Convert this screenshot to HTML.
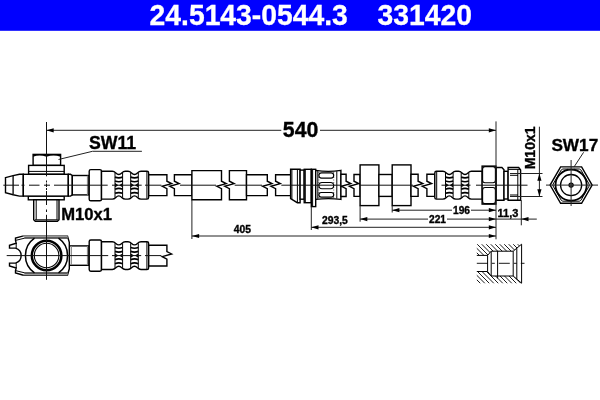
<!DOCTYPE html>
<html><head><meta charset="utf-8"><style>
html,body{margin:0;padding:0;background:#fff;}
svg{display:block;will-change:transform;}
.o{fill:#fff;stroke:#000;stroke-width:1.4;stroke-linejoin:miter;}
.t{fill:none;stroke:#000;stroke-width:1;}
.k{fill:none;stroke:#000;stroke-width:1.7;}
.g{fill:none;stroke:#888;stroke-width:1.2;}
.c{fill:none;stroke:#000;stroke-width:0.9;stroke-dasharray:11 4 3 4;}
.cl{fill:none;stroke:#111;stroke-width:1;}
.d{fill:none;stroke:#222;stroke-width:1;}
text{font-family:"Liberation Sans",sans-serif;font-weight:bold;fill:#000;}
.b{stroke:#000;stroke-width:0.35;}
.hd{font-size:28.3px;fill:#fff;stroke:#fff;stroke-width:0.3;}
</style></head><body>
<svg width="600" height="400" viewBox="0 0 600 400">
<rect x="0" y="0" width="600" height="30.8" fill="#0000ff"/>
<g transform="matrix(1,0,0,1.05,0,-1.23)"><text x="149.6" y="24.6" class="hd">24.5143-0544.3</text><text x="377.6" y="24.6" class="hd">331420</text></g>
<rect class="o" x="33.1" y="154.4" width="27.5" height="11"/>
<path fill="#000" d="M33.1,154.4 L60.6,154.4 L60.6,156.8 Q53.5,154.3 46.5,156.8 Q39.5,154.3 33.1,156.8 Z"/>
<rect class="o" x="28.6" y="165.4" width="35.6" height="8.9"/>
<line class="t" x1="28.6" y1="171.4" x2="64.2" y2="171.4"/>
<rect class="o" x="28.3" y="196.1" width="35.9" height="3.7"/>
<path class="o" d="M33.7,199.8 L59.0,199.8 L59.0,219.7 L57.4,221.3 L35.3,221.3 L33.7,219.7 Z"/>
<path class="t" d="M36.2,199.8 L36.2,219.8 M57.0,199.8 L57.0,219.8 M35.0,219.8 L57.8,219.8"/>
<path class="o" d="M5.5,177.6 L13.1,175.6 L19.5,174.3 L23.3,174.3 L23.3,196.1 L19.5,196.1 L13.1,194.8 L5.5,192.8 Z"/>
<line fill="none" stroke="#000" stroke-width="1.3" x1="13.1" y1="175.8" x2="13.1" y2="194.6"/>
<rect class="o" x="23.3" y="174.3" width="45.0" height="21.8"/>
<path class="o" d="M68.3,174.29999999999998 L70.5,174.29999999999998 L72.3,175.5 L72.3,194.89999999999998 L70.5,196.1 L68.3,196.1 Z"/>
<rect class="o" x="72.3" y="175.5" width="16.6" height="19.4"/>
<line class="g" x1="87.5" y1="175.7" x2="87.5" y2="194.7"/>
<rect class="o" x="89.2" y="169.6" width="12.3" height="31.2" rx="1.6"/>
<path class="o" d="M101.5,171.29999999999998 L112.3,171.29999999999998 C115.8,171.29999999999998 115.8,174.49999999999997 118.8,174.49999999999997 C121.8,174.49999999999997 121.8,171.29999999999998 125.3,171.29999999999998 L128.0,171.29999999999998 C131.5,171.29999999999998 131.5,174.49999999999997 134.5,174.49999999999997 C137.5,174.49999999999997 137.5,171.29999999999998 141.0,171.29999999999998 L147.0,171.29999999999998 Q148.6,171.29999999999998 148.6,172.89999999999998 L148.6,197.5 Q148.6,199.1 147.0,199.1 L141.0,199.1 C137.5,199.1 137.5,195.9 134.5,195.9 C131.5,195.9 131.5,199.1 128.0,199.1 L125.3,199.1 C121.8,199.1 121.8,195.9 118.8,195.9 C115.8,195.9 115.8,199.1 112.3,199.1 L101.5,199.1 Z"/>
<line class="t" x1="146.9" y1="171.6" x2="146.9" y2="198.79999999999998"/>
<line class="t" x1="115.0" y1="172.89999999999998" x2="115.0" y2="197.5"/>
<line class="t" x1="122.6" y1="172.89999999999998" x2="122.6" y2="197.5"/>
<path class="k" d="M115.0,177.1 Q118.8,178.6 122.6,177.1"/>
<path class="k" d="M115.0,181.0 Q118.8,182.5 122.6,181.0"/>
<path class="k" d="M115.0,189.2 Q118.8,187.7 122.6,189.2"/>
<path class="k" d="M115.0,193.29999999999998 Q118.8,191.79999999999998 122.6,193.29999999999998"/>
<path fill="#000" d="M115.0,183.1 L118.5,185.2 L115.0,187.29999999999998 Z M122.6,183.1 L119.1,185.2 L122.6,187.29999999999998 Z"/>
<line class="t" x1="130.7" y1="172.89999999999998" x2="130.7" y2="197.5"/>
<line class="t" x1="138.3" y1="172.89999999999998" x2="138.3" y2="197.5"/>
<path class="k" d="M130.7,177.1 Q134.5,178.6 138.3,177.1"/>
<path class="k" d="M130.7,181.0 Q134.5,182.5 138.3,181.0"/>
<path class="k" d="M130.7,189.2 Q134.5,187.7 138.3,189.2"/>
<path class="k" d="M130.7,193.29999999999998 Q134.5,191.79999999999998 138.3,193.29999999999998"/>
<path fill="#000" d="M130.7,183.1 L134.2,185.2 L130.7,187.29999999999998 Z M138.3,183.1 L134.8,185.2 L138.3,187.29999999999998 Z"/>
<path class="o" d="M148.7,174.79999999999998 L166.9,174.79999999999998 L166.9,181.2 L171.6,183.6 L162.20000000000002,186.29999999999998 L166.9,188.7 L166.9,195.6 L148.7,195.6 Z"/>
<path class="o" d="M174.4,174.79999999999998 L192.0,174.79999999999998 L192.0,195.6 L174.4,195.6 L174.4,188.7 L169.70000000000002,186.29999999999998 L179.1,183.6 L174.4,181.2 Z"/>
<path class="o" d="M191.9,170.6 L221.5,170.6 L221.5,181.2 L226.2,183.6 L216.8,186.29999999999998 L221.5,188.7 L221.5,199.8 L191.9,199.8 Z"/>
<path class="o" d="M229.4,170.6 L246.5,170.6 L246.5,199.8 L229.4,199.8 L229.4,188.7 L224.70000000000002,186.29999999999998 L234.1,183.6 L229.4,181.2 Z"/>
<path class="o" d="M246.5,174.79999999999998 L267.3,174.79999999999998 L267.3,181.2 L272.0,183.6 L262.6,186.29999999999998 L267.3,188.7 L267.3,195.6 L246.5,195.6 Z"/>
<path class="o" d="M275.6,174.79999999999998 L290.8,174.79999999999998 L290.8,195.6 L275.6,195.6 L275.6,188.7 L270.90000000000003,186.29999999999998 L280.3,183.6 L275.6,181.2 Z"/>
<path class="o" d="M290.6,169.3 L300.1,169.3 L300.1,202.7 L297.3,202.7 L290.6,198.7 Z"/>
<line class="t" x1="291.9" y1="169.6" x2="291.9" y2="199.2"/>
<line class="t" x1="297.4" y1="169.6" x2="297.4" y2="202.5"/>
<rect class="o" x="300.1" y="170.1" width="4.1" height="29.1"/>
<rect class="o" x="304.2" y="169.3" width="7.1" height="33.4"/>
<line class="t" x1="305.3" y1="169.6" x2="305.3" y2="202.4"/>
<rect class="o" x="311.3" y="169.3" width="4.4" height="37.3"/>
<line class="t" x1="312.6" y1="169.6" x2="312.6" y2="206.3"/>
<path class="o" d="M315.7,170.4 Q328.3,172.4 340.9,170.4 L340.9,199.4 Q328.3,197.8 315.7,199.4 Z"/>
<path class="t" d="M317.8,171 L317.8,198.8 M336.8,171.2 L336.8,198.6"/>
<path fill="none" stroke="#000" stroke-width="0.6" stroke-dasharray="1 1.5" d="M318.9,172 L318.9,198 M333.7,172 L333.7,198"/>
<rect fill="#fff" stroke="#000" stroke-width="1.1" x="318.9" y="172.9" width="14.8" height="5.20" rx="2.60"/>
<rect fill="#fff" stroke="#000" stroke-width="1.1" x="318.9" y="182.5" width="14.8" height="6.20" rx="3.10"/>
<rect fill="#fff" stroke="#000" stroke-width="1.1" x="318.9" y="192.5" width="14.8" height="4.60" rx="2.30"/>
<path class="o" d="M340.9,174.2 L346.1,174.2 L346.1,181.2 L350.8,183.6 L341.40000000000003,186.29999999999998 L346.1,188.7 L346.1,196.5 L340.9,196.5 Z"/>
<path class="o" d="M354.0,174.5 L360.1,174.5 L360.1,196.4 L354.0,196.4 L354.0,188.7 L349.3,186.29999999999998 L358.7,183.6 L354.0,181.2 Z"/>
<rect class="o" x="360.1" y="164.9" width="18.8" height="40.7"/>
<rect class="o" x="378.9" y="174.5" width="13.3" height="21.9"/>
<rect class="o" x="392.2" y="164.9" width="18.8" height="40.7"/>
<path class="o" d="M411.0,174.3 L418.1,174.3 L418.1,181.2 L422.8,183.6 L413.40000000000003,186.29999999999998 L418.1,188.7 L418.1,196.4 L411.0,196.4 Z"/>
<path class="o" d="M426.9,174.3 L434.8,174.3 L434.8,196.4 L426.9,196.4 L426.9,188.7 L422.2,186.29999999999998 L431.59999999999997,183.6 L426.9,181.2 Z"/>
<path class="o" d="M436.40000000000003,171.29999999999998 L442.8,171.29999999999998 C446.3,171.29999999999998 446.3,174.49999999999997 449.3,174.49999999999997 C452.3,174.49999999999997 452.3,171.29999999999998 455.8,171.29999999999998 L458.5,171.29999999999998 C462.0,171.29999999999998 462.0,174.49999999999997 465.0,174.49999999999997 C468.0,174.49999999999997 468.0,171.29999999999998 471.5,171.29999999999998 L482.3,171.29999999999998 L482.3,199.1 L471.5,199.1 C468.0,199.1 468.0,195.9 465.0,195.9 C462.0,195.9 462.0,199.1 458.5,199.1 L455.8,199.1 C452.3,199.1 452.3,195.9 449.3,195.9 C446.3,195.9 446.3,199.1 442.8,199.1 L436.40000000000003,199.1 Q434.8,199.1 434.8,197.5 L434.8,172.89999999999998 Q434.8,171.29999999999998 436.40000000000003,171.29999999999998 Z"/>
<line class="t" x1="436.7" y1="171.6" x2="436.7" y2="198.79999999999998"/>
<line class="t" x1="445.5" y1="172.89999999999998" x2="445.5" y2="197.5"/>
<line class="t" x1="453.1" y1="172.89999999999998" x2="453.1" y2="197.5"/>
<path class="k" d="M445.5,177.1 Q449.3,178.6 453.1,177.1"/>
<path class="k" d="M445.5,181.0 Q449.3,182.5 453.1,181.0"/>
<path class="k" d="M445.5,189.2 Q449.3,187.7 453.1,189.2"/>
<path class="k" d="M445.5,193.29999999999998 Q449.3,191.79999999999998 453.1,193.29999999999998"/>
<path fill="#000" d="M445.5,183.1 L449.0,185.2 L445.5,187.29999999999998 Z M453.1,183.1 L449.6,185.2 L453.1,187.29999999999998 Z"/>
<line class="t" x1="461.2" y1="172.89999999999998" x2="461.2" y2="197.5"/>
<line class="t" x1="468.8" y1="172.89999999999998" x2="468.8" y2="197.5"/>
<path class="k" d="M461.2,177.1 Q465.0,178.6 468.8,177.1"/>
<path class="k" d="M461.2,181.0 Q465.0,182.5 468.8,181.0"/>
<path class="k" d="M461.2,189.2 Q465.0,187.7 468.8,189.2"/>
<path class="k" d="M461.2,193.29999999999998 Q465.0,191.79999999999998 468.8,193.29999999999998"/>
<path fill="#000" d="M461.2,183.1 L464.7,185.2 L461.2,187.29999999999998 Z M468.8,183.1 L465.3,185.2 L468.8,187.29999999999998 Z"/>
<rect class="o" x="482.1" y="166.1" width="13.8" height="38.0"/>
<rect fill="none" stroke="#000" stroke-width="1.1" x="482.6" y="166.6" width="12.8" height="16.1" rx="2.4"/>
<rect fill="none" stroke="#000" stroke-width="1.1" x="482.6" y="187.5" width="12.8" height="16.1" rx="2.4"/>
<path class="o" d="M496.2,167.5 L501.9,167.5 L504,169.8 L504,200.2 L496.2,200.2 Z"/>
<rect class="o" x="504" y="171.3" width="4.1" height="27.7"/>
<path class="o" d="M508.1,167.5 L518.7,167.5 L520.6,170 L520.6,200.2 L508.1,200.2 Z"/>
<path class="t" d="M508.1,169.4 L520.6,169.4 M517.8,169.4 L517.8,200.2 M510,175.3 L518,175.3 M510,195.0 L518,195.0"/>
<path class="cl" d="M3.3,185.2 L19,185.2 M21.5,185.2 L24.5,185.2 M29,185.2 L39.5,185.2 M44,185.2 L50,185.2 M54,185.2 L107.7,185.2 M112,185.2 L141.7,185.2 M145,185.2 L161.4,185.2 M180,185.2 L216,185.2 M234.7,185.2 L262,185.2 M281.3,185.2 L340.5,185.2 M359.5,185.2 L413,185.2 M441.5,185.2 L470.5,185.2 M476,185.2 L527.5,185.2"/>
<rect class="o" x="69.3" y="245.9" width="19.6" height="19.4"/>
<line class="g" x1="71.3" y1="246.1" x2="71.3" y2="265.1"/>
<line class="g" x1="87.5" y1="246.1" x2="87.5" y2="265.1"/>
<rect class="o" x="89.2" y="240.0" width="12.3" height="31.2" rx="1.6"/>
<path class="o" d="M101.5,241.7 L112.3,241.7 C115.8,241.7 115.8,244.89999999999998 118.8,244.89999999999998 C121.8,244.89999999999998 121.8,241.7 125.3,241.7 L128.0,241.7 C131.5,241.7 131.5,244.89999999999998 134.5,244.89999999999998 C137.5,244.89999999999998 137.5,241.7 141.0,241.7 L147.0,241.7 Q148.6,241.7 148.6,243.29999999999998 L148.6,267.9 Q148.6,269.5 147.0,269.5 L141.0,269.5 C137.5,269.5 137.5,266.3 134.5,266.3 C131.5,266.3 131.5,269.5 128.0,269.5 L125.3,269.5 C121.8,269.5 121.8,266.3 118.8,266.3 C115.8,266.3 115.8,269.5 112.3,269.5 L101.5,269.5 Z"/>
<line class="t" x1="146.9" y1="242.0" x2="146.9" y2="269.2"/>
<line class="t" x1="115.0" y1="243.29999999999998" x2="115.0" y2="267.9"/>
<line class="t" x1="122.6" y1="243.29999999999998" x2="122.6" y2="267.9"/>
<path class="k" d="M115.0,247.5 Q118.8,249.0 122.6,247.5"/>
<path class="k" d="M115.0,251.4 Q118.8,252.9 122.6,251.4"/>
<path class="k" d="M115.0,259.6 Q118.8,258.1 122.6,259.6"/>
<path class="k" d="M115.0,263.7 Q118.8,262.2 122.6,263.7"/>
<path fill="#000" d="M115.0,253.5 L118.5,255.6 L115.0,257.7 Z M122.6,253.5 L119.1,255.6 L122.6,257.7 Z"/>
<line class="t" x1="130.7" y1="243.29999999999998" x2="130.7" y2="267.9"/>
<line class="t" x1="138.3" y1="243.29999999999998" x2="138.3" y2="267.9"/>
<path class="k" d="M130.7,247.5 Q134.5,249.0 138.3,247.5"/>
<path class="k" d="M130.7,251.4 Q134.5,252.9 138.3,251.4"/>
<path class="k" d="M130.7,259.6 Q134.5,258.1 138.3,259.6"/>
<path class="k" d="M130.7,263.7 Q134.5,262.2 138.3,263.7"/>
<path fill="#000" d="M130.7,253.5 L134.2,255.6 L130.7,257.7 Z M138.3,253.5 L134.8,255.6 L138.3,257.7 Z"/>
<path class="o" d="M148.7,245.2 L166.9,245.2 L166.9,251.6 L171.6,254.0 L162.20000000000002,256.7 L166.9,259.1 L166.9,266.0 L148.7,266.0 Z"/>
<path class="o" d="M22.6,236.1 L67.5,236.1 L69.3,242.4 L69.3,268.8 L67.5,275.0 L22.6,275.0 L15.5,273.0 L15.5,270.6 L16.2,268.0 L9.5,265.9 L9.5,263.1 L15.5,263.1 A7.8,7.8 0 0 0 15.5,248.1 L9.5,248.1 L9.5,245.3 L16.2,243.2 L15.5,240.4 L15.5,238.0 Z"/>
<path fill="#999" d="M22.6,236.1 L67.5,236.1 L68.0,238.1 L24.9,238.1 Z M22.6,275.0 L67.5,275.0 L68.0,272.9 L24.9,272.9 Z"/>
<path class="t" d="M24.9,238.1 L67.6,238.1 M24.9,272.9 L67.6,272.9 M15.5,240.4 L24.9,238.1 M15.5,270.6 L24.9,272.9 M16.2,243.2 L16.2,248.1 M16.2,263.1 L16.2,268.0"/>
<path fill="none" stroke="#000" stroke-width="1.5" d="M34.5,238.1 A21.2,21.2 0 0 0 34.5,272.9 M58.5,238.1 A21.2,21.2 0 0 1 58.5,272.9"/>
<circle cx="46.6" cy="255.5" r="14.8" fill="none" stroke="#000" stroke-width="2.5"/>
<circle cx="46.6" cy="255.5" r="12.3" fill="none" stroke="#000" stroke-width="1.1"/>
<path class="cl" d="M46.5,122 L46.5,176.3 M46.5,180.5 L46.5,182.5 M46.5,183.5 L46.5,187 M46.5,188 L46.5,190 M46.5,191 L46.5,205 M46.5,209.5 L46.5,212 M46.5,214.8 L46.5,279.8"/>
<path class="cl" d="M6.7,255.6 L108.2,255.6 M112,255.6 L141.2,255.6 M145,255.6 L161.4,255.6"/>
<line class="d" x1="496" y1="121.4" x2="496" y2="239.3"/>
<path class="d" d="M46.5,130.3 L281.3,130.3 M320,130.3 L496,130.3"/>
<polygon points="46.5,130.3 53.7,128.20000000000002 53.7,132.4" fill="#000"/>
<polygon points="496,130.3 488.8,128.20000000000002 488.8,132.4" fill="#000"/>
<text x="282.8" y="136.7" class="b" style="font-size:21.3px">540</text>
<text x="88.9" y="149.0" class="b" style="font-size:17.7px">SW11</text>
<path class="d" d="M141.9,151.3 L92.5,151.3 L58.5,159.5"/>
<text x="61.3" y="220.2" class="b" style="font-size:16.6px">M10x1</text>
<line class="d" x1="191.9" y1="200" x2="191.9" y2="239"/>
<line class="d" x1="191.9" y1="236" x2="496" y2="236"/>
<polygon points="191.9,236 199.1,233.9 199.1,238.1" fill="#000"/>
<polygon points="496,236 488.8,233.9 488.8,238.1" fill="#000"/>
<text x="233.8" y="233.3" class="b" style="font-size:10.3px">405</text>
<line class="d" x1="311.3" y1="206.6" x2="311.3" y2="230"/>
<line class="d" x1="311.3" y1="227.3" x2="496" y2="227.3"/>
<polygon points="311.3,227.3 318.5,225.20000000000002 318.5,229.4" fill="#000"/>
<polygon points="496,227.3 488.8,225.20000000000002 488.8,229.4" fill="#000"/>
<text x="322.0" y="224.2" class="b" style="font-size:10.3px">293,5</text>
<line class="d" x1="360.1" y1="205.6" x2="360.1" y2="221.7"/>
<path class="d" d="M360.1,219.1 L428,219.1 M447,219.1 L496,219.1"/>
<polygon points="360.1,219.1 367.3,217.0 367.3,221.2" fill="#000"/>
<polygon points="496,219.1 488.8,217.0 488.8,221.2" fill="#000"/>
<text x="429.0" y="222.8" class="b" style="font-size:10.2px">221</text>
<line class="d" x1="392.2" y1="205.6" x2="392.2" y2="212.5"/>
<path class="d" d="M392.2,210.2 L452,210.2 M471,210.2 L496,210.2"/>
<polygon points="392.2,210.2 399.4,208.1 399.4,212.29999999999998" fill="#000"/>
<polygon points="496,210.2 488.8,208.1 488.8,212.29999999999998" fill="#000"/>
<text x="453.0" y="213.7" class="b" style="font-size:10.2px">196</text>
<line class="d" x1="521.3" y1="200.2" x2="521.3" y2="225.3"/>
<line class="d" x1="496" y1="219.1" x2="536.8" y2="219.1"/>
<polygon points="521.3,219.1 528.5,217.0 528.5,221.2" fill="#000"/>
<text x="497.6" y="216.5" class="b" style="font-size:11px">11,3</text>
<path class="d" d="M510,173.5 L542.5,173.5 M510,196.5 L542.5,196.5 M539.4,126.7 L539.4,196.5"/>
<polygon points="539.4,173.5 537.3,180.7 541.5,180.7" fill="#000"/>
<polygon points="539.4,196.5 537.3,189.3 541.5,189.3" fill="#000"/>
<text transform="translate(534.9,169.3) rotate(-90)" class="b" style="font-size:14px">M10x1</text>
<polygon class="o" points="592.10,185.10 581.60,203.29 560.60,203.29 550.10,185.10 560.60,166.91 581.60,166.91"/>
<path class="t" d="M589.18,185.99 L580.91,200.31 A18.1,18.1 0 0 1 579.37,201.20 L579.37,201.20 L562.83,201.20 A18.1,18.1 0 0 1 561.29,200.31 L561.29,200.31 L553.02,185.99 A18.1,18.1 0 0 1 553.02,184.21 L553.02,184.21 L561.29,169.89 A18.1,18.1 0 0 1 562.83,169.00 L562.83,169.00 L579.37,169.00 A18.1,18.1 0 0 1 580.91,169.89 L580.91,169.89 L589.18,184.21 A18.1,18.1 0 0 1 589.18,185.99 Z"/>
<circle cx="571.1" cy="185.1" r="15.6" fill="none" stroke="#000" stroke-width="1.8"/>
<rect x="568" y="167.3" width="6.4" height="1.8" fill="#777"/>
<circle fill="none" stroke="#000" stroke-width="1.3" cx="571.1" cy="185.1" r="10.6"/>
<circle cx="571.1" cy="185.1" r="2.1" fill="#777" stroke="#000" stroke-width="1.2"/>
<path class="d" d="M546,185.1 L598,185.1 M571.1,160 L571.1,206"/>
<text x="551.4" y="150.9" class="b" style="font-size:17.2px">SW17</text>
<line class="d" x1="583.6" y1="152.3" x2="574" y2="167"/>
<defs><clipPath id="hc"><path d="M476.8,244.2 L521.6,244.2 L513.2,251.2 L491.2,251.2 L487.6,255.4 L476.8,255.4 Z M476.8,271.5 L487.6,271.5 L491.2,276 L513.2,276 L521.6,283.2 L476.8,283.2 Z"/></clipPath></defs>
<g clip-path="url(#hc)"><line x1="422.0" y1="243" x2="463.0" y2="284" stroke="#000" stroke-width="0.9"/><line x1="426.5" y1="243" x2="467.5" y2="284" stroke="#000" stroke-width="0.9"/><line x1="431.0" y1="243" x2="472.0" y2="284" stroke="#000" stroke-width="0.9"/><line x1="435.5" y1="243" x2="476.5" y2="284" stroke="#000" stroke-width="0.9"/><line x1="440.0" y1="243" x2="481.0" y2="284" stroke="#000" stroke-width="0.9"/><line x1="444.5" y1="243" x2="485.5" y2="284" stroke="#000" stroke-width="0.9"/><line x1="449.0" y1="243" x2="490.0" y2="284" stroke="#000" stroke-width="0.9"/><line x1="453.5" y1="243" x2="494.5" y2="284" stroke="#000" stroke-width="0.9"/><line x1="458.0" y1="243" x2="499.0" y2="284" stroke="#000" stroke-width="0.9"/><line x1="462.5" y1="243" x2="503.5" y2="284" stroke="#000" stroke-width="0.9"/><line x1="467.0" y1="243" x2="508.0" y2="284" stroke="#000" stroke-width="0.9"/><line x1="471.5" y1="243" x2="512.5" y2="284" stroke="#000" stroke-width="0.9"/><line x1="476.0" y1="243" x2="517.0" y2="284" stroke="#000" stroke-width="0.9"/><line x1="480.5" y1="243" x2="521.5" y2="284" stroke="#000" stroke-width="0.9"/><line x1="485.0" y1="243" x2="526.0" y2="284" stroke="#000" stroke-width="0.9"/><line x1="489.5" y1="243" x2="530.5" y2="284" stroke="#000" stroke-width="0.9"/><line x1="494.0" y1="243" x2="535.0" y2="284" stroke="#000" stroke-width="0.9"/><line x1="498.5" y1="243" x2="539.5" y2="284" stroke="#000" stroke-width="0.9"/><line x1="503.0" y1="243" x2="544.0" y2="284" stroke="#000" stroke-width="0.9"/><line x1="507.5" y1="243" x2="548.5" y2="284" stroke="#000" stroke-width="0.9"/><line x1="512.0" y1="243" x2="553.0" y2="284" stroke="#000" stroke-width="0.9"/><line x1="516.5" y1="243" x2="557.5" y2="284" stroke="#000" stroke-width="0.9"/><line x1="521.0" y1="243" x2="562.0" y2="284" stroke="#000" stroke-width="0.9"/><line x1="525.5" y1="243" x2="566.5" y2="284" stroke="#000" stroke-width="0.9"/><line x1="530.0" y1="243" x2="571.0" y2="284" stroke="#000" stroke-width="0.9"/><line x1="534.5" y1="243" x2="575.5" y2="284" stroke="#000" stroke-width="0.9"/></g>
<path class="t" d="M476.8,255.4 L487.6,255.4 L491.2,251.2 L513.2,251.2 L521.6,244.2 M476.8,271.5 L487.6,271.5 L491.2,276 L513.2,276 L521.6,283.2 M521.6,244.2 L521.6,283.2 M487.6,255.4 L487.6,271.5 M491.2,251.2 L491.2,276 M497.6,251 L497.6,278.4 M513.2,251.2 L513.2,276 M516.8,248.2 L516.8,279.2"/>
<line class="c" x1="476.8" y1="263.3" x2="524.5" y2="263.3"/>
</svg>
</body></html>
